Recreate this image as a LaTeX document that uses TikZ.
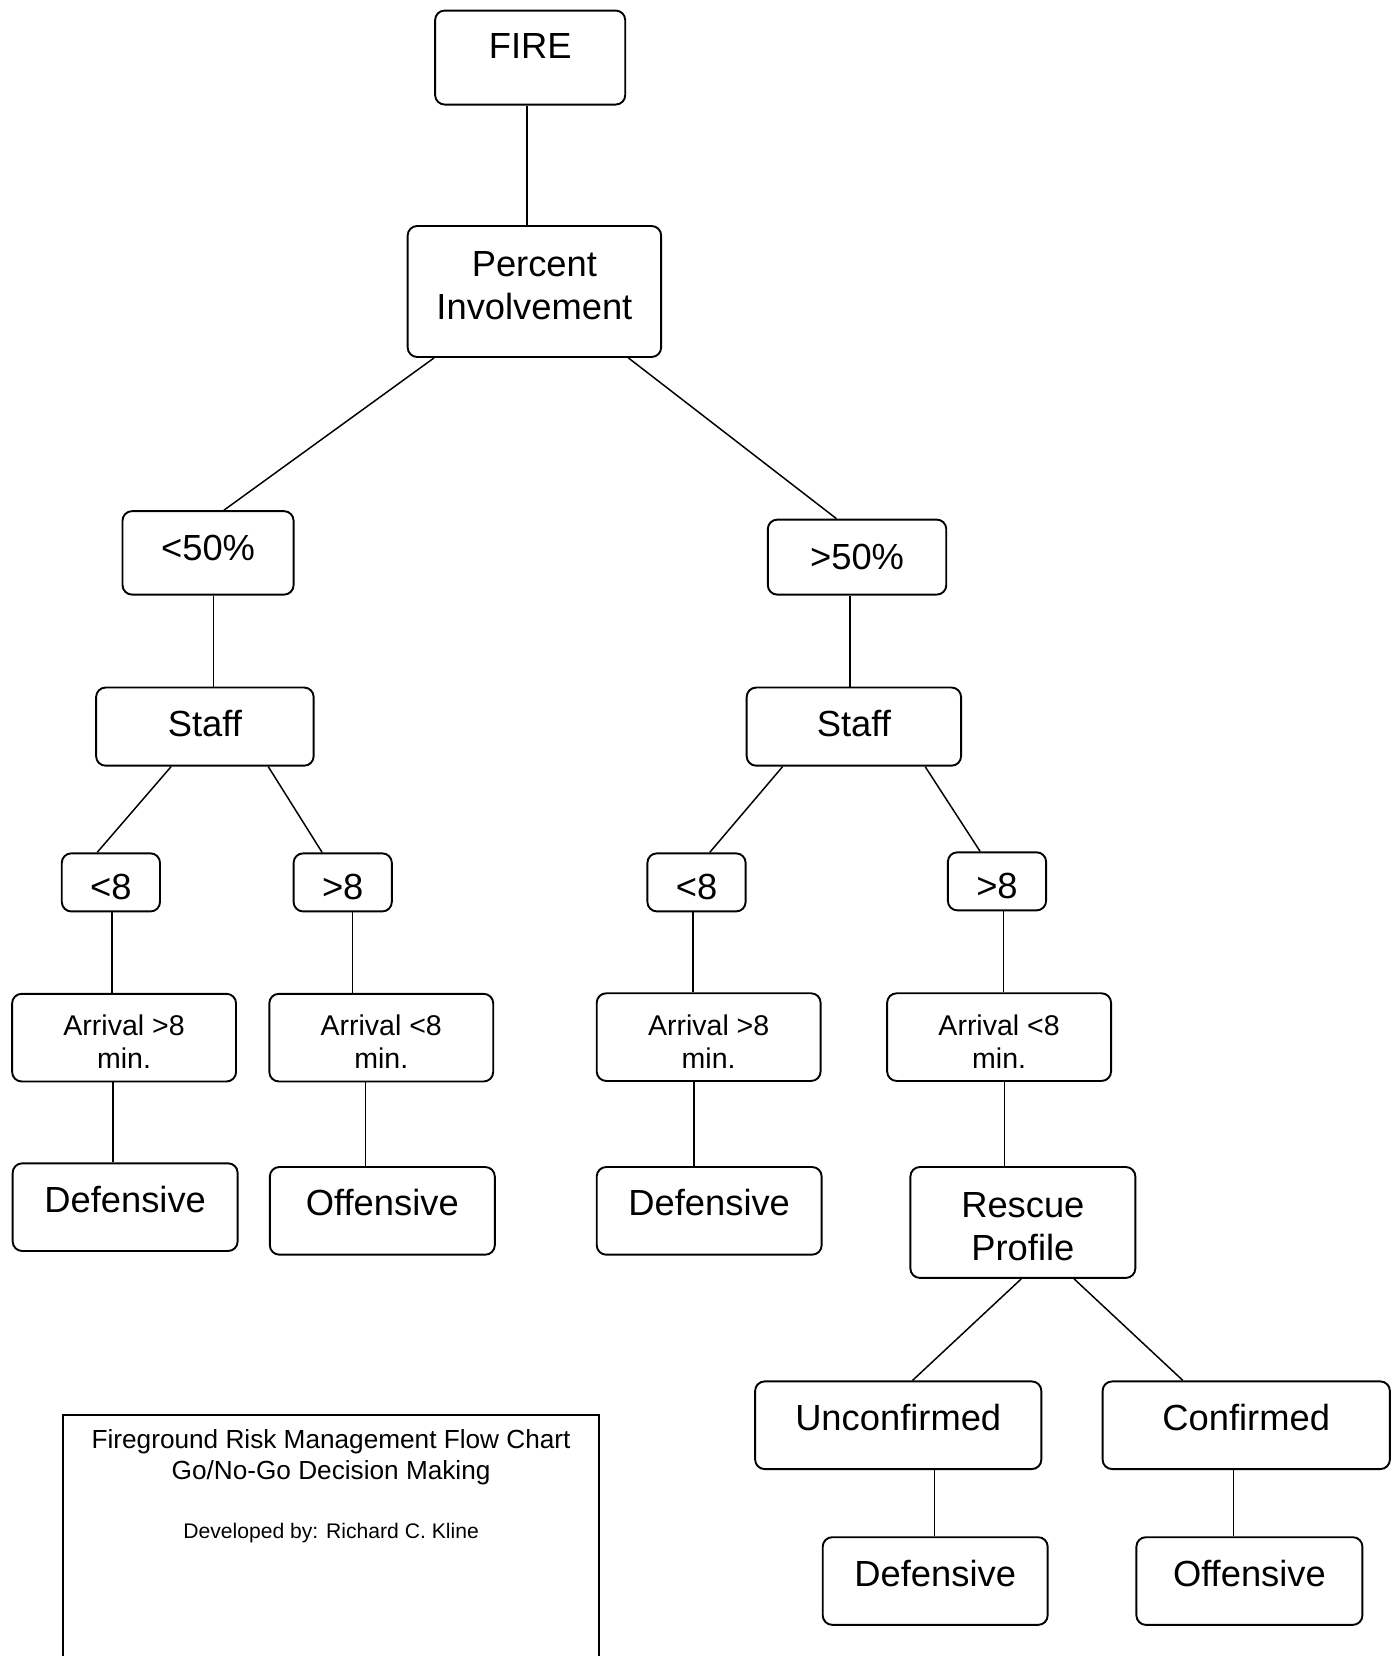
\documentclass[tikz,border=0pt]{standalone}
\usepackage{fontspec}
\setmainfont{Liberation Sans}

\begin{document}
\begin{tikzpicture}[x=0.5pt, y=-0.5pt, line width=0.7pt,
  box/.style={draw, line width=0.9pt, rounded corners=4.5pt, inner sep=0pt,
    font=\fontsize{17.2}{20.5}\selectfont},
  onebox/.style={box, text height=12.3pt, text depth=#1}, onebox/.default=0pt,
  twobox/.style={box, align=center, text depth=#1}, twobox/.default={},
  gate/.style={onebox, text height=16.3pt, minimum width=46.5pt, minimum height=27.5pt},
  arrive/.style={twobox, font=\fontsize{13.5}{15.5}\selectfont, minimum width=106pt, minimum height=41.5pt},
  result/.style={onebox=#1, minimum width=106.5pt, minimum height=41.5pt}, result/.default=7pt]
\clip (0,0) rectangle (1324,1568);

% top of the tree
\node[onebox=11.5pt, minimum width=90pt, minimum height=44.5pt] (fire) at (502,54.5) {FIRE};
\node[twobox=6pt, minimum width=120pt, minimum height=62pt] (pinv) at (506,276) {Percent\\Involvement};
\node[onebox=5.5pt, minimum width=81pt, minimum height=39.5pt] (lt50) at (197,523.5) {<50\%};
\node[onebox=1pt, minimum width=84.5pt, minimum height=35.5pt] (gt50) at (811.5,527.5) {>50\%};
\node[onebox=3pt, minimum width=103pt, minimum height=37pt] (staffl) at (194,688) {Staff};
\node[onebox=3pt, minimum width=101.5pt, minimum height=37pt] (staffr) at (808.5,688) {Staff};

% minutes
\node[gate] (lt8l) at (105,835.5) {<8};
\node[gate] (gt8l) at (324.5,835.5) {>8};
\node[gate] (lt8r) at (659.5,835.5) {<8};
\node[gate] (gt8r) at (944,834.5) {>8};
\node[arrive] (arrl1) at (117.5,982.5) {\rule{0pt}{13.9pt}Arrival >8\\min.};
\node[arrive] (arrl2) at (361,982.5) {\rule{0pt}{13.9pt}Arrival <8\\min.};
\node[arrive] (arrr1) at (671,982) {\rule{0pt}{13.9pt}Arrival >8\\min.};
\node[arrive] (arrr2) at (946,982) {\rule{0pt}{13.9pt}Arrival <8\\min.};

% outcomes
\node[result] (defl) at (118.5,1143) {Defensive};
\node[result=7.5pt] (offl) at (362,1146.5) {Offensive};
\node[result=7.5pt] (defm) at (671.5,1146.5) {Defensive};
\node[twobox, minimum width=106.5pt, minimum height=52.5pt] (rescue) at (968.5,1157.5) {\rule{0pt}{15.6pt}Rescue\\Profile};
\node[result=7.5pt, minimum width=135.5pt] (unconf) at (850.5,1349.5) {Unconfirmed};
\node[result=7.5pt, minimum width=136pt] (conf) at (1180,1349.5) {Confirmed};
\node[result] (defb) at (885.5,1497) {Defensive};
\node[result, minimum width=107pt] (offb) at (1183,1497) {Offensive};

% credits
\node[draw, line width=1pt, minimum width=253.5pt, minimum height=150pt, anchor=north] (credits) at (313.5,1339) {};
\node[font=\fontsize{12.4}{14.5}\selectfont, align=center] (credhead) at (313.5,1380) {Fireground Risk Management Flow Chart\\Go/No-Go Decision Making};
\node[font=\fontsize{10}{12}\selectfont] (credname) at (313.5,1452) {Developed by: Richard C. Kline};

\foreach \a/\s/\b/\t in {fire/-1.5pt/pinv/-3.5pt, pinv/-47.5pt/lt50/7.5pt, pinv/44.5pt/gt50/-9.75pt,
    lt50/2.5pt/staffl/4pt, gt50/-3.25pt/staffr/-1.75pt,
    staffl/-16pt/lt8l/-6.5pt, staffl/30pt/gt8l/-9.75pt, staffr/-33.75pt/lt8r/6.25pt, staffr/33.75pt/gt8r/-8pt,
    lt8l/0.5pt/arrl1/-5.75pt, gt8l/4.75pt/arrl2/-13.5pt, lt8r/-1.75pt/arrr1/-7.5pt, gt8r/3pt/arrr2/2pt,
    arrl1/-5.25pt/defl/-5.75pt, arrl2/-7.5pt/offl/-8pt, arrr1/-7pt/defm/-7.25pt, arrr2/2.5pt/rescue/-8.75pt,
    rescue/-0.75pt/unconf/6.75pt, rescue/24.25pt/conf/-30pt,
    unconf/17.25pt/defb/-0.25pt, conf/-6pt/offb/-7.5pt}
  \draw ([xshift=\s]\a.south) -- ([xshift=\t]\b.north);
\end{tikzpicture}
\end{document}
